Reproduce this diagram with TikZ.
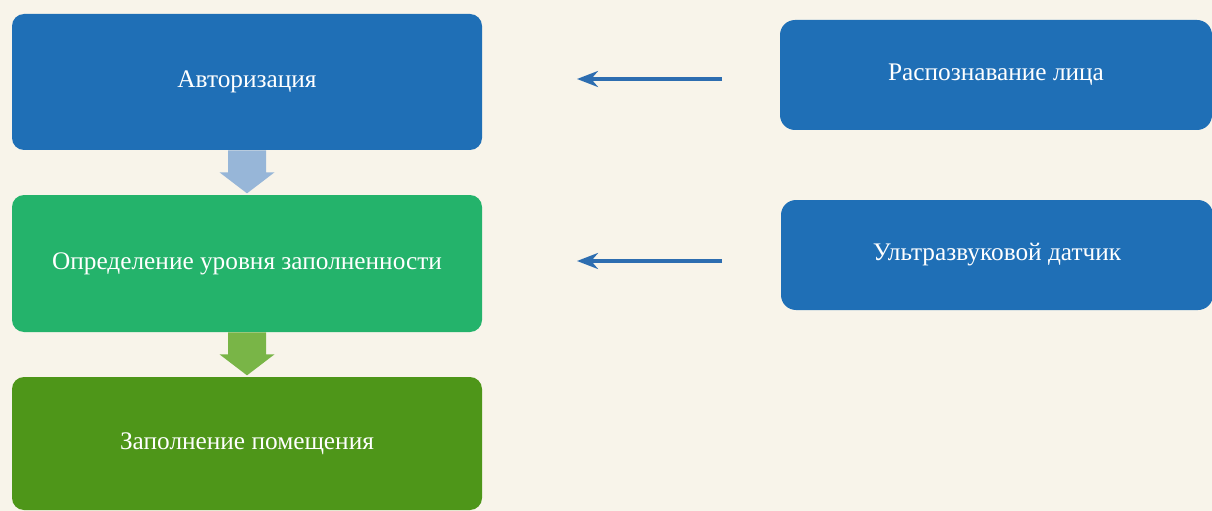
\documentclass[tikz,border=0pt]{standalone}
\usepackage{fontspec}
\setmainfont{Liberation Serif}
\usetikzlibrary{arrows.meta,calc}
\definecolor{bgcream}{HTML}{F8F4EA}
\definecolor{boxblue}{HTML}{1F6FB6}
\definecolor{boxgreen}{HTML}{24B36B}
\definecolor{boxolive}{HTML}{4E9619}
\definecolor{arrblue}{HTML}{97B6D8}
\definecolor{arrgreen}{HTML}{79B547}
\definecolor{lineblue}{HTML}{2D6DB0}
\tikzset{
  stage/.style={draw=none, rounded corners=0.24cm, text=white,
    minimum width=9.4cm, font=\fontsize{14.4}{16}\selectfont},
  sensor/.style={draw=none, fill=boxblue, rounded corners=0.3cm, text=white,
    minimum width=8.64cm, minimum height=2.2cm, font=\fontsize{14.4}{16}\selectfont},
  feed/.style={lineblue, line width=2pt, -{Stealth[length=0.42cm,width=0.32cm]}}
}
% block arrow pointing down from a node's south anchor
\newcommand{\stagearrow}[2]{%
  \fill[#2] (#1) ++(-0.38,0) -- ++(0,-0.44) -- ++(-0.17,0) -- ++(0.55,-0.42)
    -- ++(0.55,0.42) -- ++(-0.17,0) -- ++(0,0.44) -- cycle;}
\begin{document}
\begin{tikzpicture}
    \fill[bgcream] (0,0) rectangle (24.24,-10.22);
    \useasboundingbox (0,0) rectangle (24.24,-10.22);

    \node[stage, fill=boxblue, minimum height=2.72cm] (auth) at (4.94,-1.64) {Авторизация};
    \node[stage, fill=boxgreen, minimum height=2.74cm] (level) at (4.94,-5.27) {\raisebox{3pt}{Определение уровня заполненности}};
    \node[stage, fill=boxolive, minimum height=2.66cm] (room) at (4.94,-8.87) {Заполнение помещения};

    \node[sensor] (face) at (19.92,-1.5) {Распознавание лица};
    \node[sensor] (sonic) at (19.94,-5.1) {Ультразвуковой датчик};

    \stagearrow{auth.south}{arrblue}
    \stagearrow{level.south}{arrgreen}

    \coordinate (faceout) at (14.44,-1.58);
    \coordinate (authin) at (11.54,-1.58);
    \coordinate (sonicout) at (14.44,-5.22);
    \coordinate (levelin) at (11.54,-5.22);
    \draw[feed] (faceout) -- (authin);
    \draw[feed] (sonicout) -- (levelin);
\end{tikzpicture}
\end{document}
